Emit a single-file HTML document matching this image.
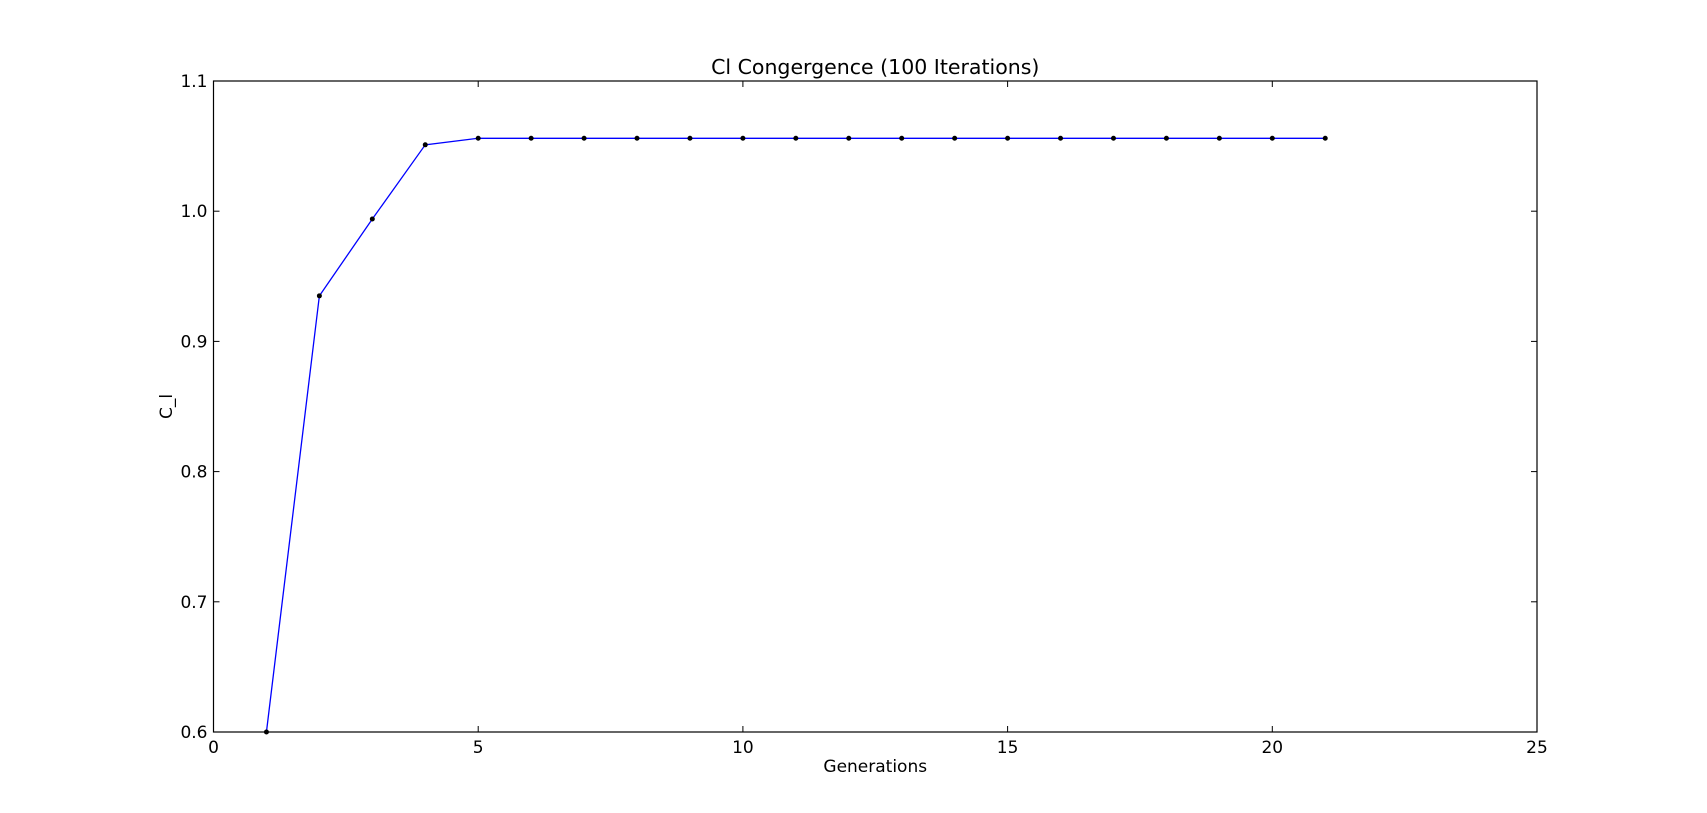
<!DOCTYPE html>
<html><head><meta charset="utf-8"><style>
body{margin:0;background:#fff;}
svg{display:block;font-family:"DejaVu Sans","Liberation Sans",sans-serif;}
</style></head><body>
<svg id="chart" width="1707" height="813"></svg>
<script>
const generations=[1,2,3,4,5,6,7,8,9,10,11,12,13,14,15,16,17,18,19,20,21];
const clValues=[0.6,0.935,0.994,1.051,1.056,1.056,1.056,1.056,1.056,1.056,1.056,1.056,1.056,1.056,1.056,1.056,1.056,1.056,1.056,1.056,1.056];
const xTicks=[0,5,10,15,20,25];
const yTicks=[0.6,0.7,0.8,0.9,1.0,1.1];
const xTickLabels=["0","5","10","15","20","25"];
const yTickLabels=["0.6","0.7","0.8","0.9","1.0","1.1"];
const L=213.5,R=1537,T=81,B=732;
const sx=v=>L+(v-0)/(25-0)*(R-L);
const sy=v=>B-(v-0.6)/(1.1-0.6)*(B-T);
const svg=document.getElementById('chart');
const NS='http://www.w3.org/2000/svg';
function mk(tag,attrs,parent){const e=document.createElementNS(NS,tag);for(const k in attrs)e.setAttribute(k,attrs[k]);(parent||svg).appendChild(e);return e;}
let t=mk('text',{x:(L+R)/2,y:74,'text-anchor':'middle','font-size':20.5});
t.textContent='Cl Congergence (100 Iterations)';


const pts=generations.map((g,i)=>sx(g)+','+sy(clValues[i])).join(' ');
let line=mk('polyline',{points:pts,fill:'none',stroke:'#0000ff','stroke-width':1.3});


generations.forEach((g,i)=>{
  let c=mk('circle',{cx:sx(g),cy:sy(clValues[i]),r:2.5,fill:'#000'});
  
  
});
let fr=mk('rect',{x:L,y:T,width:R-L,height:B-T,fill:'none',stroke:'#000','stroke-width':1.2});


xTicks.forEach((v,i)=>{
  const x=sx(v);
  mk('line',{x1:x,y1:B,x2:x,y2:B-6,stroke:'#000'});
  mk('line',{x1:x,y1:T,x2:x,y2:T+6,stroke:'#000'});
  let tx=mk('text',{x:x,y:B+21,'text-anchor':'middle','font-size':17});
  tx.textContent=xTickLabels[i];
  
  
});
yTicks.forEach((v,i)=>{
  const y=sy(v);
  mk('line',{x1:L,y1:y,x2:L+6,y2:y,stroke:'#000'});
  mk('line',{x1:R,y1:y,x2:R-6,y2:y,stroke:'#000'});
  let tx=mk('text',{x:L-6,y:y+6,'text-anchor':'end','font-size':17});
  tx.textContent=yTickLabels[i];
  
  
});
let xl=mk('text',{x:(L+R)/2,y:772,'text-anchor':'middle','font-size':17});
xl.textContent='Generations';


let yl=mk('text',{x:172,y:(T+B)/2,'text-anchor':'middle','font-size':17,transform:'rotate(-90 172 '+((T+B)/2)+')'});
yl.textContent='C_l';


</script>
</body></html>
